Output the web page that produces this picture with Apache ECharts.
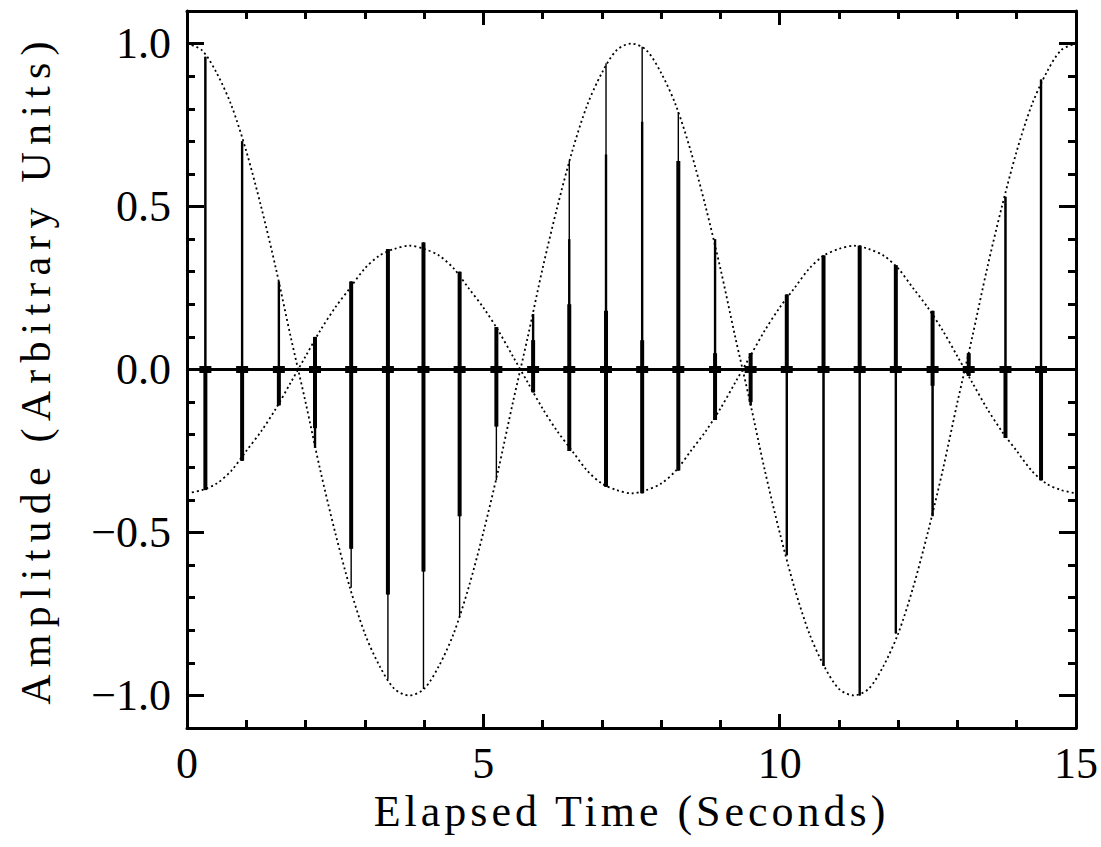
<!DOCTYPE html>
<html>
<head>
<meta charset="utf-8">
<script src="https://cdn.jsdelivr.net/npm/echarts@6/dist/echarts.min.js"></script>
<style>
html,body{margin:0;padding:0;background:#fff;}
#chart{width:1101px;height:847px;}
</style>
</head>
<body>
<div id="chart"></div>
<script>
// ---- data ----
const envTime = [0,0.25,0.5,0.75,1,1.25,1.5,1.75,2,2.25,2.5,2.75,3,3.25,3.5,3.75,4,4.25,4.5,4.75,5,5.25,5.5,5.75,6,6.25,6.5,6.75,7,7.25,7.5,7.75,8,8.25,8.5,8.75,9,9.25,9.5,9.75,10,10.25,10.5,10.75,11,11.25,11.5,11.75,12,12.25,12.5,12.75,13,13.25,13.5,13.75,14,14.25,14.5,14.75,15];
const envBig = [1.00,0.98,0.91,0.81,0.67,0.50,0.31,0.10,-0.10,-0.31,-0.50,-0.67,-0.81,-0.91,-0.98,-1.00,-0.98,-0.91,-0.81,-0.67,-0.50,-0.31,-0.10,0.10,0.31,0.50,0.67,0.81,0.91,0.98,1.00,0.98,0.91,0.81,0.67,0.50,0.31,0.10,-0.10,-0.31,-0.50,-0.67,-0.81,-0.91,-0.98,-1.00,-0.98,-0.91,-0.81,-0.67,-0.50,-0.31,-0.10,0.10,0.31,0.50,0.67,0.81,0.91,0.98,1.00];
const envSmall = [-0.38,-0.37,-0.35,-0.31,-0.25,-0.19,-0.12,-0.04,0.04,0.12,0.19,0.25,0.31,0.35,0.37,0.38,0.37,0.35,0.31,0.25,0.19,0.12,0.04,-0.04,-0.12,-0.19,-0.25,-0.31,-0.35,-0.37,-0.38,-0.37,-0.35,-0.31,-0.25,-0.19,-0.12,-0.04,0.04,0.12,0.19,0.25,0.31,0.35,0.37,0.38,0.37,0.35,0.31,0.25,0.19,0.12,0.04,-0.04,-0.12,-0.19,-0.25,-0.31,-0.35,-0.37,-0.38];

const spikeTime = [0.31,0.93,1.55,2.16,2.77,3.39,3.99,4.60,5.22,5.84,6.45,7.07,7.68,8.29,8.91,9.51,10.12,10.74,11.35,11.96,12.58,13.19,13.81,14.41];
const spikeHi   = [0.96,0.70,0.27,0.10,0.27,0.37,0.39,0.30,0.13,0.17,0.64,0.94,0.99,0.79,0.40,0.05,0.23,0.35,0.38,0.32,0.18,0.05,0.53,0.89];
const spikeLo   = [-0.37,-0.28,-0.11,-0.24,-0.67,-0.95,-0.98,-0.76,-0.34,-0.07,-0.25,-0.36,-0.38,-0.31,-0.155,-0.11,-0.57,-0.91,-1.00,-0.81,-0.45,-0.02,-0.21,-0.34];
const midHi     = [0.96,0.70,0.27,0.10,0.27,0.37,0.39,0.30,0.13,0.17,0.40,0.66,0.76,0.64,0.40,0.05,0.23,0.35,0.38,0.32,0.18,0.05,0.53,0.89];
const midLo     = [-0.37,-0.28,-0.11,-0.24,-0.55,-0.69,-0.62,-0.45,-0.175,-0.07,-0.25,-0.36,-0.38,-0.31,-0.155,-0.11,-0.57,-0.91,-1.00,-0.81,-0.45,-0.02,-0.21,-0.34];
const thickHi   = [0,0,0,0.10,0.27,0.37,0.39,0.30,0.13,0.09,0.20,0.18,0.09,0.64,0.05,0.05,0.23,0.35,0.38,0.32,0.18,0.05,0,0];
const thickLo   = [-0.37,-0.28,-0.11,-0.18,-0.55,-0.69,-0.62,-0.45,-0.175,-0.07,-0.25,-0.36,-0.38,-0.31,-0.155,-0.10,0,0,0,0,-0.05,-0.02,-0.21,-0.34];

const xMajorTicks = [0,5,10,15];
const yMajorTicks = [-1.0,-0.5,0.0,0.5,1.0];
const xTitle = 'Elapsed Time (Seconds)';
const yTitle = 'Amplitude (Arbitrary Units)';

// ---- chart ----
const FONT = "'Liberation Serif', 'DejaVu Serif', serif";
const BLACK = '#000';
const chart = echarts.init(document.getElementById('chart'), null, {renderer: 'svg'});

function yFmt(v){
  const a = Math.abs(v).toFixed(1);
  return v < -1e-9 ? '\u2212' + a : a;
}
function tickAxisX(pos, major){
  return {
    type: 'value', min: 0, max: 15, interval: major ? 5 : 1, position: pos,
    axisLine: {show: major && pos === 'bottom', onZero: false, lineStyle: {color: BLACK, width: 3}},
    axisTick: {show: true, inside: true, length: major ? 14 : 8, lineStyle: {color: BLACK, width: 3}},
    axisLabel: (major && pos === 'bottom') ? {
      show: true, margin: 13, color: BLACK, fontFamily: FONT, fontSize: 44,
      customValues: xMajorTicks, formatter: v => String(v)
    } : {show: false},
    splitLine: {show: false}
  };
}
function tickAxisY(pos, major){
  const ax = {
    type: 'value', min: -1.1, max: 1.1, position: pos,
    axisLine: {show: major, onZero: false, lineStyle: {color: BLACK, width: 3}},
    axisTick: {show: true, inside: true, length: major ? 17 : 8, lineStyle: {color: BLACK, width: 3}},
    axisLabel: (major && pos === 'left') ? {
      show: true, margin: 16, color: BLACK, fontFamily: FONT, fontSize: 44,
      customValues: yMajorTicks, formatter: yFmt
    } : {show: false},
    splitLine: {show: false}
  };
  if (major) { ax.axisTick.customValues = yMajorTicks; }
  else { ax.interval = 0.1; }
  return ax;
}

const xAxes = [tickAxisX('bottom', true), tickAxisX('bottom', false), tickAxisX('top', true), tickAxisX('top', false)];
xAxes[2].axisLine.show = true;
Object.assign(xAxes[0], {
  name: xTitle, nameLocation: 'middle', nameGap: 42,
  nameTextStyle: {color: BLACK, fontFamily: FONT, fontSize: 44}
});
const yAxes = [tickAxisY('left', true), tickAxisY('left', false), tickAxisY('right', true), tickAxisY('right', false)];
Object.assign(yAxes[0], {
  name: yTitle, nameLocation: 'middle', nameGap: 130, nameRotate: 90,
  nameTextStyle: {color: BLACK, fontFamily: FONT, fontSize: 42}
});

const spikeData = spikeTime.map((t, i) => [t, spikeHi[i], spikeLo[i], midHi[i], midLo[i], thickHi[i], thickLo[i]]);

chart.setOption({
  animation: false,
  backgroundColor: '#fff',
  grid: {left: 187, right: 25, top: 11, bottom: 119, containLabel: false},
  xAxis: xAxes,
  yAxis: yAxes,
  series: [
    {
      type: 'line', xAxisIndex: 0, yAxisIndex: 0,
      data: envTime.map((t, i) => [t, envBig[i]]),
      showSymbol: false, smooth: 0.3,
      lineStyle: {color: BLACK, width: 1.8, type: [2, 3]},
      markLine: {
        silent: true, symbol: 'none', label: {show: false},
        lineStyle: {color: BLACK, width: 3, type: 'solid'},
        data: [{yAxis: 0}]
      },
      z: 3
    },
    {
      type: 'line', xAxisIndex: 0, yAxisIndex: 0,
      data: envTime.map((t, i) => [t, envSmall[i]]),
      showSymbol: false, smooth: 0.3,
      lineStyle: {color: BLACK, width: 1.8, type: [2, 3]},
      z: 3
    },
    {
      type: 'custom', xAxisIndex: 0, yAxisIndex: 0,
      data: spikeData,
      encode: {x: 0, y: [1, 2]},
      renderItem: function (params, api) {
        const t = api.value(0);
        const seg = (a, b, w) => {
          const A = api.coord([t, a]), B = api.coord([t, b]);
          return {type: 'line', shape: {x1: A[0], y1: A[1], x2: B[0], y2: B[1]},
                  style: {stroke: BLACK, lineWidth: w}};
        };
        const c = api.coord([t, 0]);
        return {type: 'group', children: [
          seg(api.value(1), api.value(2), 1.4),
          seg(api.value(3), api.value(4), 2.4),
          seg(api.value(5), api.value(6), 4),
          {type: 'rect', shape: {x: c[0] - 6, y: c[1] - 3.5, width: 12, height: 7}, style: {fill: BLACK}}
        ]};
      },
      z: 2
    }
  ]
});

function spaceTitles(){
  document.querySelectorAll('#chart text').forEach(el => {
    const s = el.textContent || '';
    if (s.indexOf('Elapsed') === 0) el.style.letterSpacing = '4px';
    else if (s.indexOf('Amplitude') === 0) el.style.letterSpacing = '7.2px';
  });
}
chart.on('finished', spaceTitles);
setTimeout(spaceTitles, 30);
setTimeout(spaceTitles, 300);
</script>
</body>
</html>
